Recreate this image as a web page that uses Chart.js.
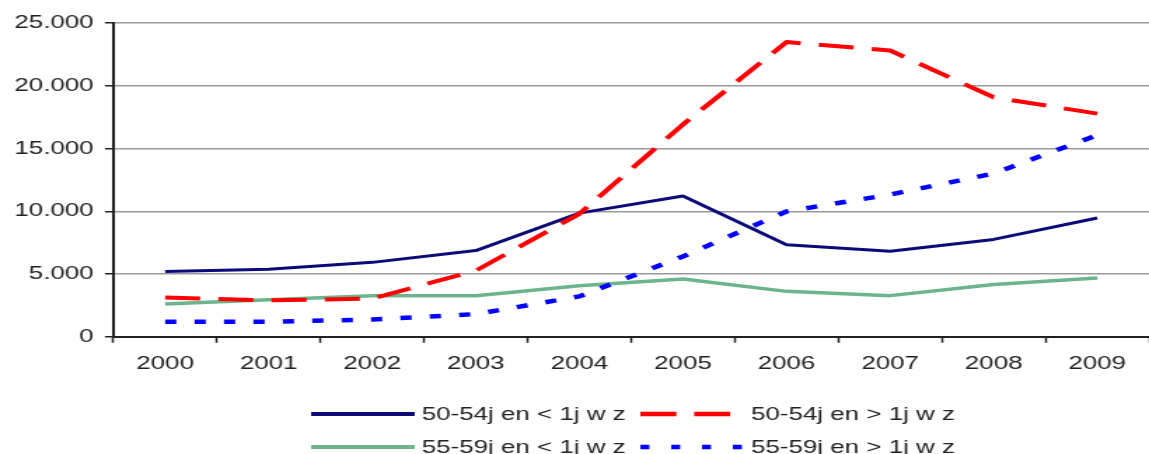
<!DOCTYPE html>
<html>
<head>
<meta charset="utf-8">
<script src="https://cdn.jsdelivr.net/npm/chart.js@4.4.1/dist/chart.umd.min.js"></script>
<style>
  html, body { margin: 0; padding: 0; background: #fff; overflow: hidden; }
  #chart { display: block; width: 1149px; height: 454px; }
</style>
</head>
<body>
<canvas id="chart" width="820" height="454"></canvas>
<script>
// Years on the category axis
const years = ['2000', '2001', '2002', '2003', '2004', '2005', '2006', '2007', '2008', '2009'];

// Series labels
const labelA = '50-54j en < 1j w z';
const labelB = '50-54j en > 1j w z';
const labelC = '55-59j en < 1j w z';
const labelD = '55-59j en > 1j w z';

// Series values per year
const valuesA = [5200, 5380, 5930, 6870, 9850, 11220, 7330, 6820, 7760, 9460];
const valuesB = [3140, 2900, 3040, 5270, 9800, 16920, 23480, 22810, 19080, 17780];
const valuesC = [2610, 2960, 3270, 3270, 4070, 4610, 3620, 3280, 4160, 4690];
const valuesD = [1200, 1200, 1380, 1810, 3220, 6400, 9990, 11330, 13010, 16070];

// Value axis range
const yMin = 0;
const yMax = 25000;
const yStep = 5000;

const FONT = "'Liberation Sans', Arial, sans-serif";
const TEXT = '#222222';

// thousands separator as a dot: 25000 -> "25.000"
function dotThousands(v) {
  return String(v).replace(/\B(?=(\d{3})+(?!\d))/g, '.');
}

// Two-row legend drawn under the plot, line sample followed by the label
const rowLegend = {
  id: 'rowLegend',
  afterDraw(chart) {
    const ctx = chart.ctx;
    const colX = [222, 457];
    const rowY = [414, 447];
    const sampleLen = 74;
    const legendDash = [[], [25.7, 12.7], [], [6.4, 15.6]];
    const legendWidth = [4, 4.5, 4, 4.5];
    ctx.save();
    ctx.font = '18.5px ' + FONT;
    ctx.textBaseline = 'middle';
    ctx.textAlign = 'left';
    chart.data.datasets.forEach((ds, i) => {
      const x = colX[i % 2];
      const y = rowY[Math.floor(i / 2)];
      ctx.beginPath();
      ctx.strokeStyle = ds.borderColor;
      ctx.lineWidth = legendWidth[i];
      ctx.lineCap = 'butt';
      ctx.setLineDash(legendDash[i]);
      ctx.moveTo(x, y);
      ctx.lineTo(x + sampleLen, y);
      ctx.stroke();
      ctx.setLineDash([]);
      ctx.fillStyle = TEXT;
      ctx.fillText(ds.label, x + sampleLen + 5, y + 1);
    });
    ctx.restore();
  }
};

const canvas = document.getElementById('chart');
new Chart(canvas, {
  type: 'line',
  data: {
    labels: years,
    datasets: [
      { label: labelA, data: valuesA, borderColor: '#0b0b78', borderWidth: 3, order: 4 },
      { label: labelB, data: valuesB, borderColor: '#ff0000', borderWidth: 4, borderDash: [25, 13], order: 2 },
      { label: labelC, data: valuesC, borderColor: '#6cb58c', borderWidth: 3.5, order: 3 },
      { label: labelD, data: valuesD, borderColor: '#0000ff', borderWidth: 4.5, borderDash: [8, 13], order: 1 }
    ]
  },
  options: {
    responsive: false,
    animation: false,
    devicePixelRatio: 1,
    layout: { padding: { left: 2.3, top: 23, right: 0, bottom: 69 } },
    elements: {
      point: { radius: 0, hoverRadius: 0 },
      line: { tension: 0, fill: false, borderJoinStyle: 'round', borderCapStyle: 'butt' }
    },
    plugins: {
      legend: { display: false },
      tooltip: { enabled: false },
      title: { display: false }
    },
    scales: {
      x: {
        type: 'category',
        offset: true,
        grid: {
          offset: true,
          drawOnChartArea: false,
          drawTicks: true,
          tickLength: 6,
          tickColor: TEXT,
          tickWidth: 1.5
        },
        border: { display: true, color: TEXT, width: 2 },
        ticks: {
          color: TEXT,
          padding: 10,
          maxRotation: 0,
          autoSkip: false,
          font: { family: FONT, size: 18.5 }
        }
      },
      y: {
        min: yMin,
        max: yMax,
        grid: {
          color: '#9a9a9a',
          lineWidth: 1.5,
          tickLength: 6,
          tickColor: TEXT,
          tickWidth: 1.5
        },
        border: { display: true, color: TEXT, width: 2 },
        ticks: {
          stepSize: yStep,
          padding: 8,
          color: TEXT,
          font: { family: FONT, size: 18.5 },
          callback: (v) => dotThousands(v)
        }
      }
    }
  },
  plugins: [rowLegend]
});
canvas.style.width = '1149px';
canvas.style.height = '454px';
</script>
</body>
</html>
